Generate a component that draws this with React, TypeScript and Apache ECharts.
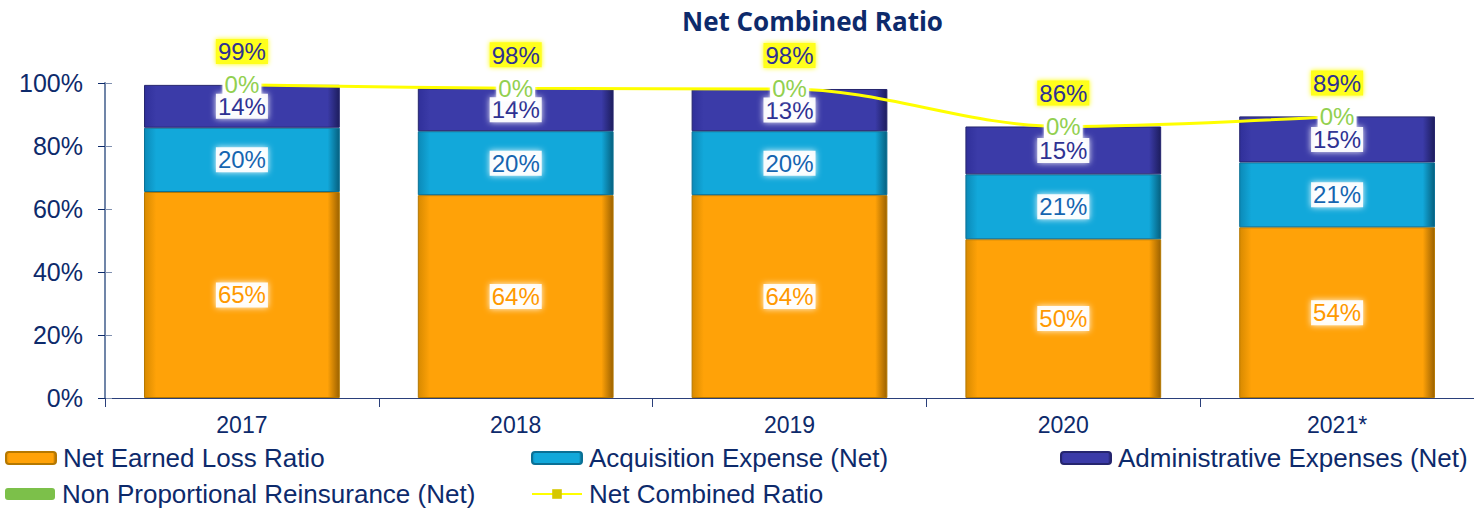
import React, { useEffect, useRef } from "react";
import * as echarts from "echarts";

const categories = ["2017", "2018", "2019", "2020", "2021*"];
const netEarnedLoss = [65.4, 64.4, 64.4, 50.4, 54.2];
const acquisition = [20.4, 20.3, 20.3, 20.6, 20.6];
const administrative = [13.6, 13.6, 13.4, 15.2, 14.6];
const nonProportional = [0, 0, 0, 0, 0];
const combined = [99.4, 98.3, 98.1, 86.2, 89.4];
const yTicks = [0, 20, 40, 60, 80, 100];

const NAVY = "#0d2a6b";
const FONT = "'Liberation Sans', Arial, sans-serif";

function barGrad(edgeL: string, mid: string, edgeR: string) {
  return new echarts.graphic.LinearGradient(1, 0, 0, 0, [
    { offset: 0, color: edgeR },
    { offset: 0.06, color: mid },
    { offset: 0.94, color: mid },
    { offset: 1, color: edgeL },
  ]);
}

function insideLabel(color: string) {
  return {
    show: true,
    position: "inside",
    color,
    fontSize: 24,
    fontFamily: FONT,
    backgroundColor: "rgba(255,255,255,0.92)",
    padding: [1, 2, 0, 2],
    shadowColor: "#ffffff",
    shadowBlur: 6,
    formatter: (p: any) => Math.round(p.value) + "%",
  };
}

export default function App() {
  const ref = useRef<HTMLDivElement>(null);
  useEffect(() => {
    document.body.style.margin = "0";
    document.body.style.overflow = "hidden";
    const chart = echarts.init(ref.current!, null, { renderer: "svg" });
    const legendBase = {
      itemWidth: 50,
      itemHeight: 12,
      itemGap: 0,
      textStyle: { color: NAVY, fontSize: 26, fontFamily: FONT, padding: [0, 0, 0, 2] },
    };
    chart.setOption({
      animation: false,
      backgroundColor: "#ffffff",
      title: {
        text: "Net Combined Ratio",
        left: 677,
        top: 3,
        textStyle: { color: NAVY, fontSize: 26, fontWeight: "bold", fontFamily: "'Open Sans', sans-serif" },
      },
      legend: [
        { ...legendBase, left: 0, top: 440, data: ["Net Earned Loss Ratio"] },
        { ...legendBase, left: 526, top: 440, data: ["Acquisition Expense (Net)"] },
        { ...legendBase, left: 1055, top: 440, data: ["Administrative Expenses (Net)"] },
        { ...legendBase, left: 0, top: 476, data: ["Non Proportional Reinsurance (Net)"] },
        { ...legendBase, left: 526, top: 476, data: ["Net Combined Ratio"] },
      ],
      grid: { left: 105, right: 0, top: 83, bottom: 110, containLabel: false },
      xAxis: {
        type: "category",
        data: categories,
        axisLine: { lineStyle: { color: "#2a3f7a", width: 1 } },
        axisTick: { show: true, length: 9, lineStyle: { color: "#2a3f7a" } },
        axisLabel: { color: NAVY, fontSize: 23, fontFamily: FONT, margin: 15 },
      },
      yAxis: [
        {
          type: "value",
          min: 0,
          max: 100,
          interval: 20,
          splitLine: { show: false },
          axisLine: { show: true, lineStyle: { color: "#7085a8", width: 2 } },
          axisTick: { show: true, length: 7, lineStyle: { color: NAVY } },
          axisLabel: {
            color: NAVY,
            fontSize: 25,
            fontFamily: FONT,
            margin: 22,
            formatter: (v: number) => (yTicks.includes(v) ? v + "%" : ""),
          },
        },
        {
          type: "value",
          min: 0,
          max: 100,
          interval: 20,
          position: "left",
          splitLine: { show: false },
          axisLine: { show: false },
          axisTick: { show: true, inside: true, length: 7, lineStyle: { color: "#8090b0" } },
          axisLabel: { show: false },
        },
      ],
      series: [
        {
          name: "Net Earned Loss Ratio",
          type: "bar",
          stack: "total",
          barWidth: "71.5%",
          data: netEarnedLoss,
          itemStyle: { color: barGrad("#d88a00", "#ffa208", "#9c6200"), borderColor: "#b57800", borderWidth: 1 },
          label: insideLabel("#ff9900"),
        },
        {
          name: "Acquisition Expense (Net)",
          type: "bar",
          stack: "total",
          data: acquisition,
          itemStyle: { color: barGrad("#0b8ab8", "#12a8da", "#06607f"), borderColor: "#0a7095", borderWidth: 1 },
          label: insideLabel("#1565b0"),
        },
        {
          name: "Administrative Expenses (Net)",
          type: "bar",
          stack: "total",
          data: administrative,
          itemStyle: { color: barGrad("#30309a", "#3b3ba8", "#1d1d5e"), borderColor: "#25256e", borderWidth: 1 },
          label: insideLabel("#2e3192"),
        },
        {
          name: "Non Proportional Reinsurance (Net)",
          type: "bar",
          stack: "total",
          z: 5,
          data: nonProportional,
          itemStyle: { color: "#7cc04a", borderWidth: 0 },
          label: {
            ...insideLabel("#92d050"),
            backgroundColor: "#ffffff",
            shadowBlur: 3,
          },
        },
        {
          name: "Net Combined Ratio",
          type: "line",
          data: combined,
          smooth: 0.35,
          z: 4,
          symbol: "rect",
          symbolSize: 6,
          showSymbol: true,
          lineStyle: { color: "#ffff00", width: 3 },
          itemStyle: { color: "#d6c800" },
          label: {
            show: true,
            position: "top",
            distance: 18,
            color: "#2e3192",
            fontSize: 24,
            fontFamily: FONT,
            backgroundColor: "#ffff1a",
            padding: [1, 2, 0, 2],
            shadowColor: "#ffff00",
            shadowBlur: 5,
            formatter: (p: any) => Math.round(p.value) + "%",
          },
        },
      ],
    });
    return () => chart.dispose();
  }, []);
  return <div ref={ref} style={{ position: "fixed", left: 0, top: 0, width: 1474, height: 508 }} />;
}
